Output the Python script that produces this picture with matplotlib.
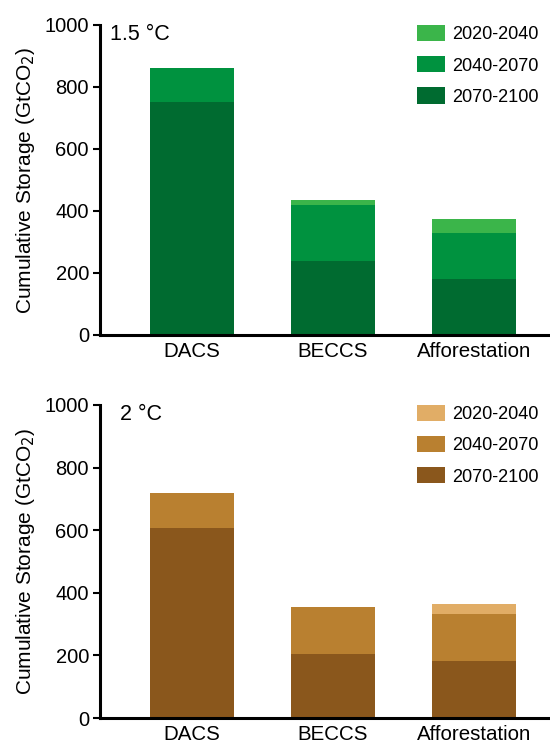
import matplotlib
matplotlib.use("Agg")
import matplotlib.pyplot as plt
from matplotlib.patches import Patch
import numpy as np

plt.rcParams['font.family'] = ['Liberation Sans', 'DejaVu Sans']

categories = ["DACS", "BECCS", "Afforestation"]
periods = ["2020-2040", "2040-2070", "2070-2100"]

# 1.5 °C scenario (GtCO2)
s15_2070_2100 = [753, 239, 182]
s15_2040_2070 = [109, 181, 148]
s15_2020_2040 = [0, 15, 44]

# 2 °C scenario (GtCO2)
s2_2070_2100 = [606, 206, 182]
s2_2040_2070 = [112, 149, 149]
s2_2020_2040 = [0, 0, 32]

greens = {"2020-2040": "#3bb54a", "2040-2070": "#00923f", "2070-2100": "#006b30"}
browns = {"2020-2040": "#e1ad66", "2040-2070": "#b98030", "2070-2100": "#8a571c"}

fig = plt.figure(figsize=(5.5, 7.43), dpi=100)
W, H = 550, 743

def make_ax(top_px, bot_px):
    return fig.add_axes([100 / W, (H - bot_px) / H, 450 / W, (bot_px - top_px) / H])

ax1 = make_ax(25, 335)
ax2 = make_ax(405, 718)

def draw(ax, d2070, d2040, d2020, colors, label, lx):
    x = np.arange(len(categories))
    w = 0.6
    ax.bar(x, d2070, w, color=colors["2070-2100"], edgecolor="none")
    b2 = np.array(d2070)
    ax.bar(x, d2040, w, bottom=b2, color=colors["2040-2070"], edgecolor="none")
    b3 = b2 + np.array(d2040)
    ax.bar(x, d2020, w, bottom=b3, color=colors["2020-2040"], edgecolor="none")
    ax.set_xlim(-0.652, 2.54)
    ax.set_ylim(0, 1000)
    ax.set_yticks([0, 200, 400, 600, 800, 1000])
    ax.set_xticks(x)
    ax.set_xticklabels(categories)
    for s in ["top", "right"]:
        ax.spines[s].set_visible(False)
    for s in ["left", "bottom"]:
        ax.spines[s].set_linewidth(2.2)
    ax.tick_params(axis="y", length=5, width=1.5, labelsize=14.5, pad=3)
    ax.tick_params(axis="x", length=0, labelsize=14.8, pad=5)
    ax.set_ylabel("Cumulative Storage (GtCO$_2$)", fontsize=15, labelpad=5)
    ax.text(lx, 1.003, label, transform=ax.transAxes, fontsize=15.5,
            ha="left", va="top")
    handles = [Patch(facecolor=colors[p], edgecolor="none", label=p) for p in periods]
    ax.legend(handles=handles, loc="upper right", bbox_to_anchor=(1.0, 1.035),
              frameon=False, fontsize=13.1, handlelength=1.54, handleheight=1.0,
              labelspacing=0.7, handletextpad=0.4, borderaxespad=0.2)

draw(ax1, s15_2070_2100, s15_2040_2070, s15_2020_2040, greens, "1.5 °C", 0.022)
draw(ax2, s2_2070_2100, s2_2040_2070, s2_2020_2040, browns, "2 °C", 0.044)

fig.savefig("out.png", dpi=100)
